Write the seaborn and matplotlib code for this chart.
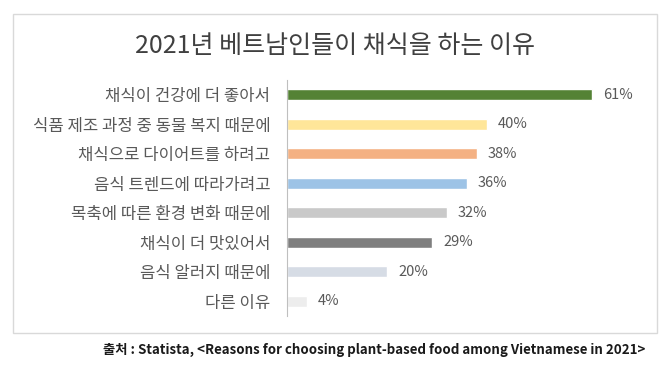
import matplotlib
matplotlib.use("Agg")
import matplotlib.pyplot as plt
import matplotlib.patches as patches
import seaborn as sns
import pandas as pd

# 데이터
reasons = [
    "채식이 건강에 더 좋아서",
    "식품 제조 과정 중 동물 복지 때문에",
    "채식으로 다이어트를 하려고",
    "음식 트렌드에 따라가려고",
    "목축에 따른 환경 변화 때문에",
    "채식이 더 맛있어서",
    "음식 알러지 때문에",
    "다른 이유",
]
shares = [61, 40, 38, 36, 32, 29, 20, 4]
bar_colors = ["#548235", "#FFE699", "#F4B183", "#9DC3E6",
              "#C9C9C9", "#7F7F7F", "#D6DCE5", "#EDEDED"]

title = "2021년 베트남인들이 채식을 하는 이유"
source = "출처 : Statista, <Reasons for choosing plant-based food among Vietnamese in 2021>"

df = pd.DataFrame({"reason": reasons, "share": shares})

sns.set_style("white")
plt.rcParams["font.family"] = ["Noto Sans CJK KR", "DejaVu Sans"]

fig = plt.figure(figsize=(6.68, 3.70), dpi=100)
ax = fig.add_axes([287 / 668, 1 - 316 / 370, (657 - 287) / 668, (316 - 80) / 370])

sns.barplot(data=df, x="share", y="reason", hue="reason", palette=bar_colors,
            width=0.37, legend=False, saturation=1, ax=ax)

ax.set_xlim(0, 74)
ax.set_ylim(len(reasons) - 0.5, -0.5)
ax.set_xlabel("")
ax.set_ylabel("")
ax.set_xticks([])

# 축 스타일
for side in ["top", "right", "bottom"]:
    ax.spines[side].set_visible(False)
ax.spines["left"].set_color("#BFBFBF")
ax.spines["left"].set_linewidth(0.8)
ax.set_yticks(range(len(reasons)))
ax.set_yticklabels(reasons, fontsize=12, color="#595959")
ax.tick_params(axis="y", which="major", length=0, pad=12)
ax.set_yticks([i - 0.5 for i in range(len(reasons) + 1)], minor=True)
ax.tick_params(axis="y", which="minor", length=4, color="#BFBFBF", width=0.8)

# 값 라벨
for i, v in enumerate(shares):
    ax.text(v + 2.2, i, f"{v}%", va="center", ha="left", fontsize=10.5, color="#595959")

# 제목
fig.text(335 / 668, 1 - 46 / 370, title, ha="center", va="center",
         fontsize=18, color="#404040")

# 바깥 테두리
fig.patches.append(patches.Rectangle((13 / 668, 1 - 333 / 370), (657 - 13) / 668, (333 - 14) / 370,
                                     transform=fig.transFigure, fill=False,
                                     edgecolor="#D9D9D9", linewidth=1))

# 출처
fig.text(645 / 668, 1 - 350 / 370, source, ha="right", va="center",
         fontsize=9.6, fontweight="bold", color="#1A1A1A")

fig.savefig("out.png", dpi=100)
